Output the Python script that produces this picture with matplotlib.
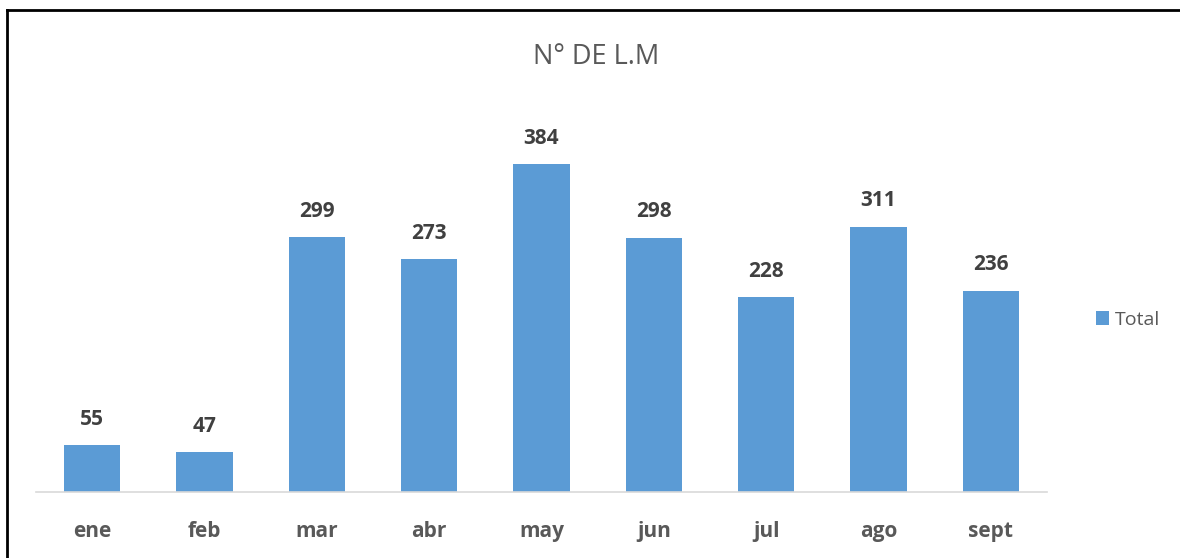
import matplotlib.pyplot as plt
from matplotlib.lines import Line2D

# Data
months = ["ene", "feb", "mar", "abr", "may", "jun", "jul", "ago", "sept"]
totals = [55, 47, 299, 273, 384, 298, 228, 311, 236]

BAR_COLOR = "#5B9BD5"
plt.rcParams["font.family"] = ["Open Sans", "DejaVu Sans"]

fig = plt.figure(figsize=(11.8, 5.58), dpi=100)
W, H = 1180, 558

# outer frame (only top and left edges are visible)
fig.lines.append(Line2D([6.5 / W, 1.01], [1 - 9.5 / H, 1 - 9.5 / H],
                        transform=fig.transFigure, color="black", linewidth=2.0))
fig.lines.append(Line2D([6.5 / W, 6.5 / W], [-0.01, 1 - 9.5 / H],
                        transform=fig.transFigure, color="black", linewidth=2.0))

ax = fig.add_axes([36 / W, (H - 492) / H, 1011 / W, 384 / H])
x = range(len(months))
bars = ax.bar(x, totals, width=0.5, color=BAR_COLOR, label="Total")

ax.set_xlim(-0.5, len(months) - 0.5)
ax.set_ylim(0, 450)

for rect, v in zip(bars, totals):
    ax.annotate(str(v), (rect.get_x() + rect.get_width() / 2, v),
                xytext=(0, 11), textcoords="offset points",
                ha="center", va="bottom", fontsize=15, fontweight="bold",
                color="#404040")

for s in ["top", "right", "left"]:
    ax.spines[s].set_visible(False)
ax.spines["bottom"].set_color("#D9D9D9")
ax.spines["bottom"].set_linewidth(1.2)
ax.set_yticks([])
ax.set_xticks(list(x))
ax.set_xticklabels(months, fontsize=15, fontweight="bold", color="#595959")
ax.tick_params(axis="x", length=0, pad=21)

fig.text(596 / W, 1 - 57 / H, "N° DE L.M", ha="center", va="center",
         fontsize=19.5, color="#595959")

ax.legend(loc="center left", bbox_to_anchor=(1078 / W, 1 - 320 / H),
          bbox_transform=fig.transFigure, frameon=False, fontsize=14,
          handlelength=0.7, handleheight=0.7, handletextpad=0.3,
          labelcolor="#595959")

fig.savefig("out.png", dpi=100)
